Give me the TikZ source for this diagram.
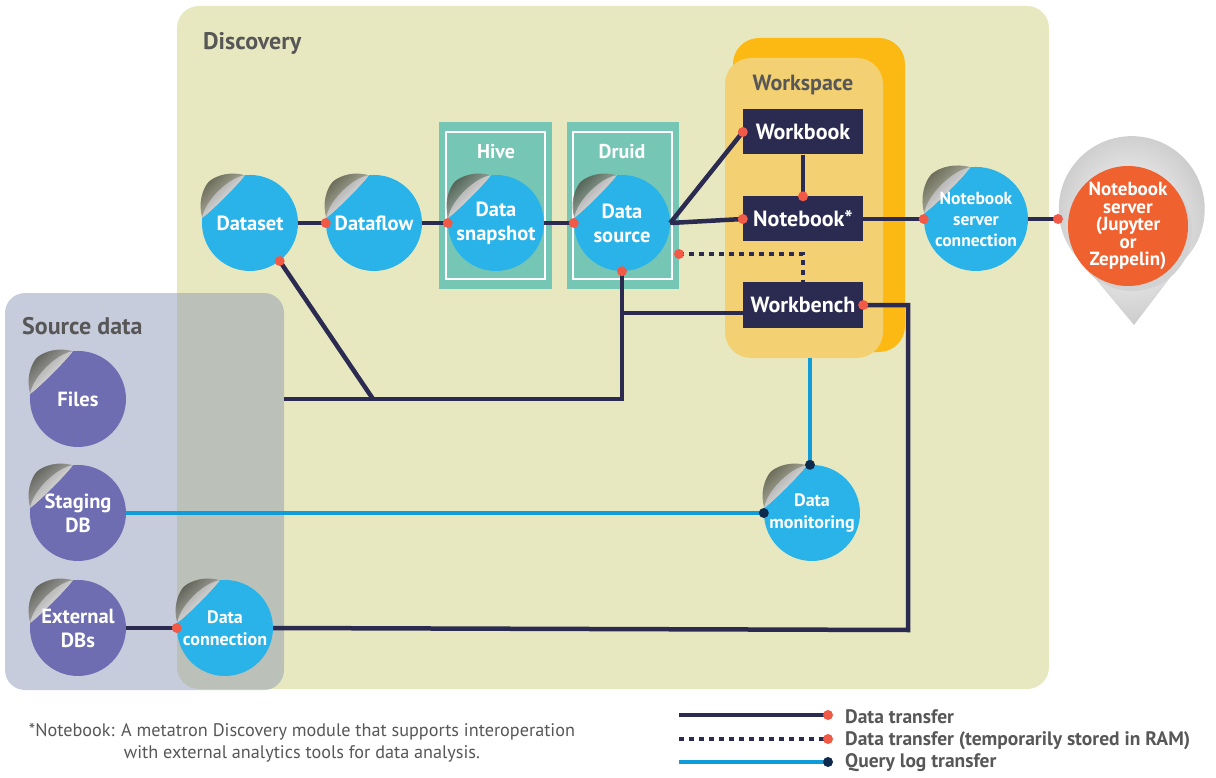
\documentclass[tikz,border=0pt]{standalone}
\usepackage{fontspec}
\setmainfont{PT Sans}
\usetikzlibrary{calc}
\definecolor{disc}{HTML}{E8E8C0}
\definecolor{srcbox}{RGB}{133,144,178}
\definecolor{teal}{HTML}{76C6B6}
\definecolor{cblue}{HTML}{29B3E8}
\definecolor{cpurple}{HTML}{6E6DB1}
\definecolor{corange}{HTML}{F06130}
\definecolor{navy}{HTML}{2B2A50}
\definecolor{rdot}{HTML}{F25A48}
\definecolor{qblue}{HTML}{109CD8}
\definecolor{qdot}{HTML}{0E2A4C}
\definecolor{wsorange}{HTML}{FDB913}
\definecolor{wslight}{HTML}{F3D172}
\definecolor{gtext}{HTML}{575757}
\definecolor{shadowc}{HTML}{3E3E30}
\tikzset{
  dline/.style={draw=navy, line width=4.5pt},
  dotline/.style={draw=navy, line width=4.5pt, dash pattern=on 5pt off 5pt},
  qline/.style={draw=qblue, line width=4.5pt},
  reddot/.style={fill=rdot},
  darkdot/.style={fill=qdot},
  navybox/.style={fill=navy, text=white, minimum width=120pt, minimum height=45pt, inner sep=0pt, font=\bfseries\fontsize{22}{24}\selectfont},
  grouplabel/.style={text=gtext, font=\bfseries\fontsize{24}{26}\selectfont, anchor=base west, inner sep=0pt},
  tealbox/.style={fill=teal},
  tealinner/.style={draw=white, line width=1.5pt},
  legtext/.style={text=gtext, anchor=west, font=\bfseries\fontsize{19.5}{22}\selectfont, inner sep=0pt}
}
\newcommand\curlcirc[7]{%
  \begin{scope}[shift={(#2,#3)}]
    \shade[top color=shadowc, bottom color=shadowc!20, shading angle=45, opacity=0.8]
      (-0.105*#4,-0.995*#4) .. controls (-0.4*#4,-1.08*#4) and (-0.7*#4,-1.0*#4) .. (-0.86*#4,-0.86*#4)
      .. controls (-1.0*#4,-0.7*#4) and (-1.08*#4,-0.4*#4) .. (-0.995*#4,-0.105*#4) -- cycle;
    \fill[#5] (-0.105*#4,-0.995*#4) arc[start angle=264, end angle=546, radius=#4]
      .. controls (-0.75*#4,-0.3*#4) and (-0.3*#4,-0.75*#4) .. (-0.105*#4,-0.995*#4) -- cycle;
    \shade[top color=gray!80, bottom color=white, shading angle=45]
      (-0.105*#4,-0.995*#4) .. controls (-0.3*#4,-0.75*#4) and (-0.75*#4,-0.3*#4) .. (-0.995*#4,-0.105*#4)
      .. controls (-0.95*#4,-0.45*#4) and (-0.45*#4,-0.95*#4) .. (-0.105*#4,-0.995*#4) -- cycle;
  \end{scope}
  \node[circle, minimum size=2*#4, inner sep=0pt, align=center, text=white, font=#6] (#1) at (#2,#3) {#7};
}
\newcommand\fbig{\bfseries\fontsize{20.5}{24}\selectfont}
\newcommand\fmid{\bfseries\fontsize{18}{22}\selectfont}
\newcommand\fsml{\bfseries\fontsize{17.5}{21}\selectfont}
\begin{document}
\begin{tikzpicture}[x=1pt, y=-1pt]
\useasboundingbox (0,0) rectangle (1216,778);
\fill[white] (0,0) rectangle (1216,778);
% Discovery region
\fill[disc, rounded corners=22pt] (177,6) rectangle (1049,689);
\node[grouplabel] (disclabel) at (203,50) {Discovery};
% Workspace
\fill[wsorange, rounded corners=26pt] (733,38) rectangle (905,352);
\fill[wslight, rounded corners=26pt] (725,58) rectangle (883,358);
\node[text=gtext, font=\bfseries\fontsize{22}{24}\selectfont, inner sep=0pt] (wslabel) at (803,85) {Workspace};
\coordinate (wsbottom) at (810,358);
% Hive / Druid
\fill[tealbox] (439,122) rectangle (552,289);
\draw[tealinner] (446,132) rectangle (545,279);
\node[text=white, font=\bfseries\fontsize{20}{22}\selectfont, inner sep=0pt] (hive) at (496,152) {Hive};
\fill[tealbox] (567,122) rectangle (679,289);
\draw[tealinner] (573,132) rectangle (672,279);
\node[text=white, font=\bfseries\fontsize{20}{22}\selectfont, inner sep=0pt] (druid) at (622,152) {Druid};
% Source data region
\fill[srcbox, fill opacity=0.45, rounded corners=20pt] (5,293) rectangle (284,690);
\node[grouplabel] (srclabel) at (22,334) {Source data};
% junction coordinates
\coordinate (srcedge) at (284,399);
\coordinate (diagend) at (373,399);
\coordinate (rt) at (908,630);
\coordinate (dotstart) at (679,254);
\coordinate (pinL) at (1058,219);
% Notebook server pin
\shade[inner color=white, outer color=gray!40]
  (1134,325) -- (1081.4,262) arc[start angle=133.6, end angle=406.4, radius=73] -- cycle;
\fill[gray!35] (1132,231) circle (60);
\node[circle, fill=corange, minimum size=120pt, inner sep=0pt, align=center, text=white,
  font=\bfseries\fontsize{19}{17.5}\selectfont] (nbserver) at (1128,226) {Notebook\\server\\(Jupyter\\or\\Zeppelin)};
% Workspace boxes
\node[navybox] (wbk) at (803,132) {Workbook};
\node[navybox] (nbk) at (803,219) {Notebook*};
\node[navybox] (wbn) at (803,305) {Workbench};
\coordinate (wbnin) at ([yshift=-8pt]wbn.west);
% circles
\curlcirc{dset}{250}{223}{48}{cblue}{\fbig}{Dataset}
\curlcirc{dflow}{374}{223}{48}{cblue}{\fbig}{Dataflow}
\curlcirc{dsnap}{496}{223}{48}{cblue}{\fbig}{Data\\snapshot}
\curlcirc{dsrc}{622}{223}{48}{cblue}{\fbig}{Data\\source}
\curlcirc{nsc}{976}{219}{52}{cblue}{\fsml}{Notebook\\server\\connection}
\curlcirc{dmon}{812}{513}{48}{cblue}{\fmid}{Data\\monitoring}
\curlcirc{dcon}{225}{628}{48}{cblue}{\fmid}{Data\\connection}
\curlcirc{files}{78}{399}{48}{cpurple}{\fbig}{Files}
\curlcirc{staging}{78}{513}{48}{cpurple}{\fbig}{Staging\\DB}
\curlcirc{extdb}{78}{628}{48}{cpurple}{\fbig}{External\\DBs}
% data transfer connectors
\draw[dline] (dset.east) -- (dflow.west);
\draw[dline] (dflow.east) -- (dsnap.west);
\draw[dline] (dsnap.east) -- (dsrc.west);
\draw[dline, line join=round] (dsrc.east) -- (wbk.west);
\draw[dline] (dsrc.east) -- (nbk.west);
\draw[dline] (wbk.south) -- (nbk.north);
\draw[dline] (srcedge) -- (dsrc.south |- srcedge) -- (dsrc.south);
\draw[dline] (dsrc.south |- wbnin) -- (wbnin);
\draw[dline] (dset.-52) -- (diagend);
\draw[dline] (wbn.east) -| (rt) -- (dcon.east);
\draw[dline] (extdb.east) -- (dcon.west);
\draw[dline] (nbk.east) -- (nsc.west);
\draw[dline] (nsc.east) -- (pinL);
\draw[dotline] (dotstart) -| (wbn.north);
% query log connectors
\draw[qline] (staging.east) -- (dmon.west);
\draw[qline] (wsbottom) -- (wsbottom |- dmon.north);
% dots
\foreach \p in {dflow.west, dsnap.west, dsrc.west, wbk.west, nbk.west, nbk.north, dsrc.south, dset.-52, wbn.east, dcon.west, nsc.west, pinL, dotstart}
  \fill[reddot] (\p) circle (5);
\fill[darkdot] (dmon.west) circle (5);
\fill[darkdot] (wsbottom |- dmon.north) circle (5);
% legend
\coordinate (l1a) at (679,715); \coordinate (l1b) at (828,715);
\coordinate (l2a) at (679,739); \coordinate (l2b) at (828,739);
\coordinate (l3a) at (679,762); \coordinate (l3b) at (828,762);
\draw[dline] (l1a) -- (l1b); \fill[reddot] (l1b) circle (5);
\draw[dotline] (l2a) -- (l2b); \fill[reddot] (l2b) circle (5);
\draw[qline] (l3a) -- (l3b); \fill[darkdot] (l3b) circle (5);
\node[legtext] (lt1) at (845,717) {Data transfer};
\node[legtext] (lt2) at (845,741) {Data transfer (temporarily stored in RAM)};
\node[legtext] (lt3) at (845,763) {Query log transfer};
% footnote
\node[text=gtext, align=center, font=\fontsize{18.2}{22}\selectfont, inner sep=0pt] (foot) at (302,743)
  {*Notebook: A metatron Discovery module that supports interoperation\\with external analytics tools for data analysis.};
\end{tikzpicture}
\end{document}
